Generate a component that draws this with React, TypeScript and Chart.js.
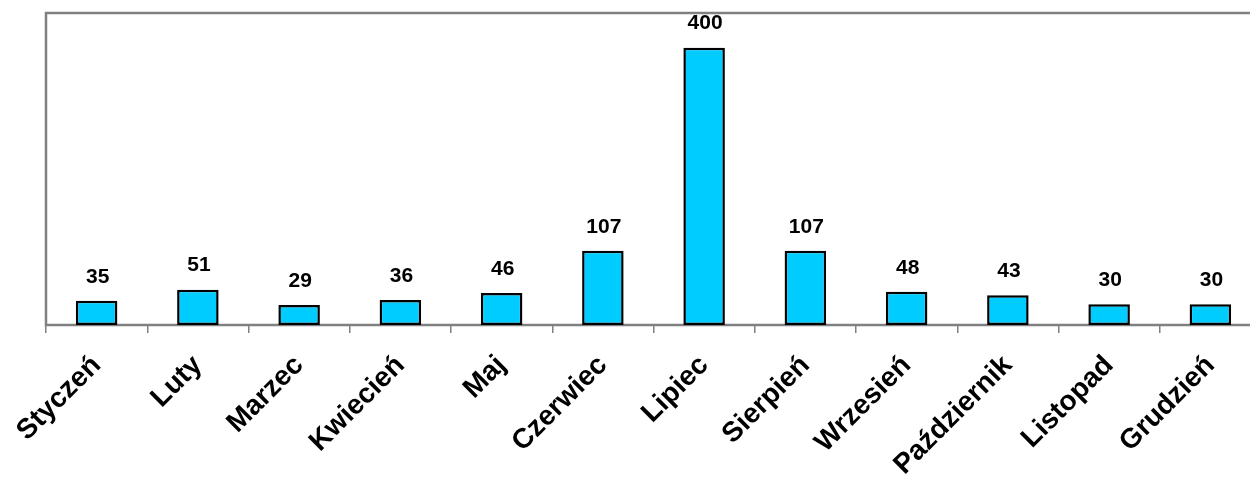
import React, { useEffect, useRef } from "react";
import { Chart, registerables } from "chart.js";

Chart.register(...registerables);

const months = [
  "Styczeń", "Luty", "Marzec", "Kwiecień", "Maj", "Czerwiec",
  "Lipiec", "Sierpień", "Wrzesień", "Październik", "Listopad", "Grudzień",
];
const values = [35, 51, 29, 36, 46, 107, 400, 107, 48, 43, 30, 30];
const yMin = 0;
const yMax = 450;

const CANVAS_W = 1290;
const CANVAS_H = 520;
const AXIS_Y = 325;

const framePlugin = {
  id: "frame",
  beforeDatasetsDraw(chart: any) {
    const { ctx, chartArea } = chart;
    ctx.save();
    ctx.strokeStyle = "#808080";
    ctx.lineWidth = 2.5;
    ctx.strokeRect(chartArea.left, chartArea.top, chartArea.right - chartArea.left, chartArea.bottom - chartArea.top);
    ctx.restore();
  },
};

const labelPlugin = {
  id: "valueLabels",
  afterDatasetsDraw(chart: any) {
    const { ctx } = chart;
    const meta = chart.getDatasetMeta(0);
    ctx.save();
    ctx.fillStyle = "#000";
    ctx.font = "bold 21px 'Liberation Sans', Arial, sans-serif";
    ctx.textAlign = "center";
    ctx.textBaseline = "middle";
    meta.data.forEach((el: any, i: number) => {
      ctx.fillText(String(values[i]), el.x + 1, el.y - 24);
    });
    ctx.restore();
  },
};

export default function App() {
  const ref = useRef<HTMLCanvasElement | null>(null);
  useEffect(() => {
    if (!ref.current) return;
    const chart = new Chart(ref.current, {
      type: "bar",
      data: {
        labels: months,
        datasets: [
          {
            data: values,
            backgroundColor: "#00CCFF",
            borderColor: "#000000",
            borderWidth: 2.5,
            borderSkipped: false,
            categoryPercentage: 1,
            barPercentage: 0.41,
          },
        ],
      },
      options: {
        responsive: false,
        animation: false,
        devicePixelRatio: 1,
        layout: { padding: { left: 46, right: CANVAS_W - 1261, top: 13, bottom: 0 } },
        plugins: { legend: { display: false }, tooltip: { enabled: false } },
        scales: {
          y: { display: false, min: yMin, max: yMax },
          x: {
            offset: true,
            grid: {
              display: true,
              offset: true,
              drawOnChartArea: false,
              drawTicks: true,
              tickLength: 8,
              color: "#808080",
              lineWidth: 1.5,
            },
            border: { display: true, color: "#808080", width: 2 },
            ticks: {
              color: "#000",
              minRotation: 45,
              maxRotation: 45,
              autoSkip: false,
              padding: 16,
              font: { family: "'Liberation Sans', Arial, sans-serif", size: 28, weight: "bold" },
            },
            afterFit(scale: any) {
              scale.height = CANVAS_H - AXIS_Y;
            },
          },
        },
      },
      plugins: [framePlugin, labelPlugin],
    });
    return () => chart.destroy();
  }, []);

  return (
    <div style={{ position: "fixed", left: 0, top: 0, width: 1250, height: 477, overflow: "hidden", background: "#fff" }}>
      <canvas ref={ref} width={CANVAS_W} height={CANVAS_H} style={{ display: "block" }} />
    </div>
  );
}
